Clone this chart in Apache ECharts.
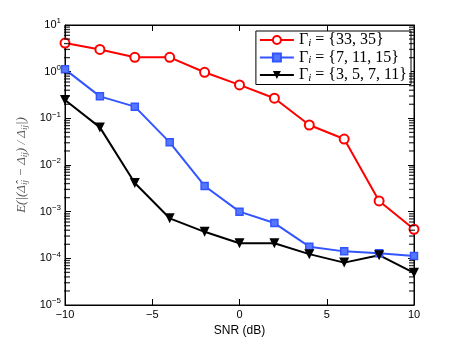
<!DOCTYPE html>
<html>
<head>
<meta charset="utf-8">
<script src="https://cdn.jsdelivr.net/npm/echarts@6/dist/echarts.min.js"></script>
<style>
  html, body { margin: 0; padding: 0; background: #fff; }
  #chart { width: 457px; height: 344px; }
</style>
</head>
<body>
<div id="chart"></div>
<script>
// data
const snr = [-10, -8, -6, -4, -2, 0, 2, 4, 6, 8, 10]
const err33 = [4.1, 3.0, 2.03, 2.03, 0.97, 0.52, 0.27, 0.072, 0.036, 0.0017, 0.00042]
const err7 = [1.12, 0.296, 0.178, 0.0306, 0.00355, 0.001, 0.00057, 0.000178, 0.000141, 0.000128, 0.000112]
const err3 = [0.247, 0.064, 0.0041, 0.00072, 0.00037, 0.00021, 0.00021, 0.000123, 0.000081, 0.000117, 0.000049]
const seriesNames = ['Γ{sub|i} = {33, 35}', 'Γ{sub|i} = {7, 11, 15}', 'Γ{sub|i} = {3, 5, 7, 11}']
const decades = [1e-5, 1e-4, 1e-3, 1e-2, 1e-1, 1]

const font = 'Liberation Sans'
const chart = echarts.init(document.getElementById('chart'))

function pairs(ys) {
  return snr.map((x, i) => [x, ys[i]])
}

function minus(v) {
  return String(v).replace('-', '\u2212')
}

// minor ticks of the log axis (2..9 in each decade)
let minorVals = []
decades.forEach(d => {
  for (let k = 2; k <= 9; k++) minorVals.push(d * k)
})

function minorTicks(xEdge, shift) {
  return {
    type: 'scatter',
    silent: true,
    clip: false,
    symbol: 'rect',
    symbolSize: [6, 1.3],
    symbolOffset: [shift, 0],
    itemStyle: { color: '#000' },
    z: 5,
    data: minorVals.map(v => [xEdge, v])
  }
}

const tickStyle = { show: true, inside: true, length: 6, lineStyle: { color: '#000' } }

const option = {
  animation: false,
  backgroundColor: '#fff',
  grid: { left: 65, right: 43, top: 25, bottom: 39, show: true, borderColor: '#000', borderWidth: 1 },
  legend: {
    right: 46,
    top: 31,
    orient: 'vertical',
    backgroundColor: '#fff',
    borderColor: '#000',
    borderWidth: 1,
    borderRadius: 0,
    padding: [1, 4, 1, 3],
    itemGap: 1,
    itemWidth: 34,
    itemHeight: 10,
    textStyle: {
      fontFamily: 'Liberation Serif',
      fontSize: 16,
      color: '#000',
      rich: { sub: { fontFamily: 'Liberation Serif', fontStyle: 'italic', fontSize: 11, verticalAlign: 'bottom', padding: [6, 0, 0, 0] } }
    },
    data: seriesNames
  },
  xAxis: [{
    type: 'value',
    min: -10, max: 10, interval: 5,
    name: 'SNR (dB)',
    nameLocation: 'middle',
    nameGap: 20,
    nameTextStyle: { fontFamily: font, fontSize: 12, color: '#000' },
    axisLine: { onZero: false, lineStyle: { color: '#000' } },
    axisTick: tickStyle,
    axisLabel: { fontFamily: font, fontSize: 11, color: '#000', margin: 4, formatter: minus },
    splitLine: { show: false }
  }, {
    type: 'value', position: 'top',
    min: -10, max: 10, interval: 5,
    axisLine: { onZero: false, lineStyle: { color: '#000' } },
    axisTick: tickStyle,
    axisLabel: { show: false },
    splitLine: { show: false }
  }],
  yAxis: [{
    type: 'log', logBase: 10,
    min: 1e-5, max: 10,
    name: 'E(|(Δ\u0302{sub|ij} − Δ{sub|ij}) / Δ{sub|ij}|)',
    nameLocation: 'middle',
    nameRotate: 90,
    nameGap: 26,
    nameTextStyle: {
      fontFamily: 'Liberation Serif', fontStyle: 'italic', fontSize: 13, color: '#555',
      rich: { sub: { fontFamily: 'Liberation Serif', fontStyle: 'italic', fontSize: 9, color: '#555', verticalAlign: 'bottom', padding: [5, 0, 0, 0] } }
    },
    axisLine: { onZero: false, lineStyle: { color: '#000' } },
    axisTick: tickStyle,
    axisLabel: {
      fontFamily: font, fontSize: 11, color: '#000', margin: 4,
      formatter: v => '10{sup|' + minus(Math.round(Math.log10(v))) + '}',
      rich: { sup: { fontFamily: font, fontSize: 8, color: '#000', verticalAlign: 'top', padding: [0, 0, 8, 0] } }
    },
    splitLine: { show: false }
  }, {
    type: 'log', logBase: 10, position: 'right',
    min: 1e-5, max: 10,
    axisLine: { onZero: false, lineStyle: { color: '#000' } },
    axisTick: tickStyle,
    axisLabel: { show: false },
    splitLine: { show: false }
  }],
  series: [minorTicks(-10, 2), minorTicks(10, -2), {
    name: seriesNames[0],
    type: 'line',
    data: pairs(err33),
    symbol: 'emptyCircle',
    symbolSize: 9,
    color: '#ff0000',
    lineStyle: { width: 2, color: '#ff0000' },
    itemStyle: { color: '#ff0000', borderWidth: 2 }
  }, {
    name: seriesNames[1],
    type: 'line',
    data: pairs(err7),
    symbol: 'rect',
    symbolSize: 7,
    color: '#3355ff',
    lineStyle: { width: 2, color: '#3355ff' },
    itemStyle: { color: '#5577ff', borderColor: '#3355ff', borderWidth: 1.5 }
  }, {
    name: seriesNames[2],
    type: 'line',
    data: pairs(err3),
    symbol: 'triangle',
    symbolRotate: 180,
    symbolSize: 10,
    color: '#000',
    lineStyle: { width: 2, color: '#000' },
    itemStyle: { color: '#000' }
  }]
}

chart.setOption(option)
</script>
</body>
</html>
